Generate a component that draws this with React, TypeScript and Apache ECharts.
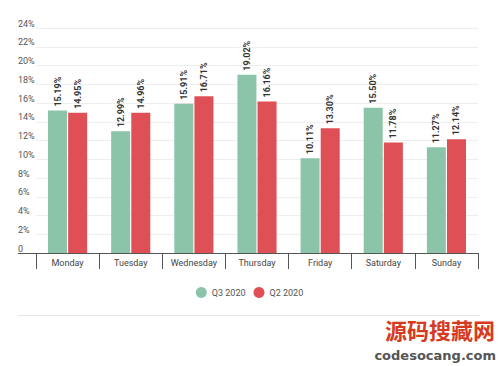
import React, { useEffect, useRef } from "react";
import * as echarts from "echarts";

const categories = ["Monday", "Tuesday", "Wednesday", "Thursday", "Friday", "Saturday", "Sunday"];
const q3Values = [15.19, 12.99, 15.91, 19.02, 10.11, 15.5, 11.27];
const q2Values = [14.95, 14.96, 16.71, 16.16, 13.3, 11.78, 12.14];
const seriesNames = ["Q3 2020", "Q2 2020"];
const seriesColors = ["#8cc4a9", "#df4f56"];

export default function App() {
  const ref = useRef<HTMLDivElement>(null);
  useEffect(() => {
    const chart = echarts.init(ref.current!, null, { renderer: "svg" });
    const font = "Roboto, 'Noto Sans', sans-serif";
    const barLabel = {
      show: true,
      position: "top",
      rotate: 90,
      align: "left",
      verticalAlign: "middle",
      distance: 4,
      fontSize: 9,
      fontWeight: "bold",
      fontFamily: font,
      color: "#333",
      formatter: (p: any) => p.value.toFixed(2) + "%",
    };
    chart.setOption({
      animation: false,
      backgroundColor: "#fff",
      grid: { left: 36, right: 21, top: 28, bottom: 113, containLabel: false },
      legend: {
        data: seriesNames,
        top: 282,
        left: "center",
        icon: "circle",
        itemWidth: 11,
        itemHeight: 11,
        itemGap: 8,
        textStyle: { fontSize: 9, color: "#555", fontFamily: font },
      },
      xAxis: {
        type: "category",
        data: categories,
        axisLine: { lineStyle: { color: "#555", width: 1 } },
        axisTick: { show: true, interval: 0, length: 16, lineStyle: { color: "#555" } },
        axisLabel: { interval: 0, fontSize: 9, color: "#444", margin: 5, fontFamily: font },
      },
      yAxis: {
        type: "value",
        min: 0,
        max: 24,
        interval: 2,
        axisLine: { show: false },
        axisTick: { show: false },
        splitLine: { lineStyle: { color: "#eeeeee" } },
        axisLabel: {
          align: "left",
          verticalAlign: "bottom",
          margin: 18,
          fontSize: 9,
          color: "#555",
          fontFamily: font,
          formatter: (v: number) => (v === 0 ? "0" : v + "%"),
        },
      },
      series: [
        {
          name: seriesNames[0],
          type: "bar",
          data: q3Values,
          itemStyle: { color: seriesColors[0] },
          barWidth: 19,
          barGap: "6%",
          label: barLabel,
        },
        {
          name: seriesNames[1],
          type: "bar",
          data: q2Values,
          itemStyle: { color: seriesColors[1] },
          barWidth: 19,
          label: barLabel,
        },
      ],
      graphic: [
        { type: "line", shape: { x1: 18, y1: 253.5, x2: 36, y2: 253.5 }, style: { stroke: "#555", lineWidth: 1 } },
        { type: "line", shape: { x1: 18, y1: 315.5, x2: 480, y2: 315.5 }, style: { stroke: "#e6e6e6", lineWidth: 1 } },
        {
          type: "text",
          right: 4,
          top: 318,
          style: {
            text: "源码搜藏网",
            fontSize: 22,
            lineHeight: 22,
            fontWeight: "bold",
            fill: "#d63a1f",
            fontFamily: "'Noto Sans CJK SC', sans-serif",
          },
        },
        {
          type: "text",
          right: 3,
          top: 349,
          style: {
            text: "codesocang.com",
            fontSize: 13,
            lineHeight: 13,
            fontWeight: "bold",
            fill: "#555",
            fontFamily: "'DejaVu Sans', sans-serif",
          },
        },
      ],
    });
    return () => chart.dispose();
  }, []);
  return <div ref={ref} style={{ position: "fixed", left: 0, top: 0, width: 499, height: 366 }} />;
}
